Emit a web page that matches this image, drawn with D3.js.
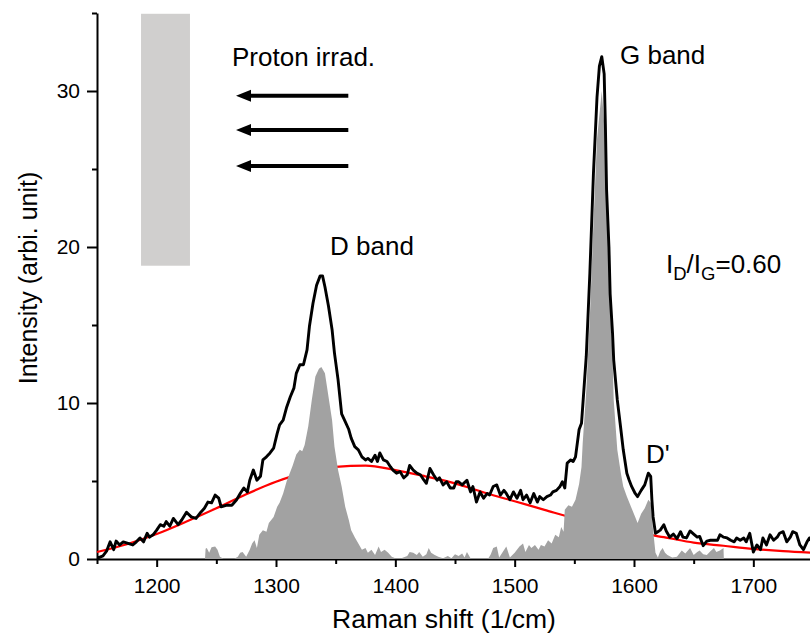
<!DOCTYPE html>
<html>
<head>
<meta charset="utf-8">
<script src="https://cdn.jsdelivr.net/npm/d3@7"></script>
<style>
  html, body { margin: 0; padding: 0; background: #fff; }
  svg { display: block; }
  text { font-family: "Liberation Sans", Arial, sans-serif; fill: #000; }
</style>
</head>
<body>
<svg id="chart" width="810" height="637"></svg>
<script>
// ---------------- data ----------------
const xTicksMajor = [1200, 1300, 1400, 1500, 1600, 1700];
const xTicksMinor = [1150, 1250, 1350, 1450, 1550, 1650, 1750];
const yTicksMajor = [0, 10, 20, 30];
const yTicksMinor = [5, 15, 25, 35];

// measured Raman spectrum [shift, intensity]
const spectrum = [
[1150,0.1],[1152,0.1],[1155,0.2],[1158,0.5],[1161,1.1],[1164,0.6],[1166,1.15],[1169,0.9],[1172,1.1],[1176,1.0],
[1180,0.9],[1183,1.1],[1186,1.35],[1189,1.1],[1192,1.65],[1194,1.4],[1197,1.55],[1200,1.85],[1203,2.2],[1206,2.1],
[1208,2.4],[1211,2.1],[1214,2.6],[1218,2.2],[1221,2.5],[1225,3.0],[1229,2.7],[1233,2.6],[1237,3.0],[1240,3.25],
[1243,3.65],[1246,3.6],[1249,4.1],[1252,3.9],[1254,3.35],[1259,3.45],[1263,3.45],[1267,3.8],[1270,4.2],[1273,4.55],
[1276,4.3],[1278,5.05],[1281,5.7],[1284,5.05],[1287,5.3],[1289,6.35],[1292,6.55],[1295,6.8],[1298,7.1],[1301,8.05],
[1303,8.6],[1306,8.9],[1309,9.75],[1312,10.4],[1315,10.95],[1317,11.9],[1320,12.45],[1323,12.45],[1326,13.4],[1328,14.9],
[1331,16.4],[1334,17.55],[1337,18.15],[1339,18.15],[1341,17.45],[1344,16.2],[1347,14.7],[1349,13.2],[1352,11.5],[1355,9.3],
[1358,8.8],[1361,8.3],[1363,7.75],[1366,7.2],[1369,7.0],[1372,6.55],[1375,6.35],[1377,6.45],[1380,6.25],[1383,6.65],
[1385,6.25],[1387,6.8],[1390,6.35],[1393,6.25],[1396,5.9],[1398,5.7],[1401,5.5],[1404,5.6],[1407,5.2],[1410,5.4],
[1412,6.0],[1415,5.7],[1418,5.5],[1421,5.4],[1424,5.05],[1426,4.85],[1429,5.8],[1432,5.4],[1435,5.05],[1437,5.2],
[1440,4.75],[1443,4.95],[1446,4.55],[1449,4.55],[1451,4.95],[1453,4.95],[1456,4.75],[1460,5.05],[1463,4.3],[1465,4.65],
[1468,3.65],[1471,4.3],[1474,3.9],[1477,4.2],[1479,4.1],[1482,4.65],[1485,4.75],[1488,4.1],[1491,4.4],[1493,4.2],
[1496,3.8],[1499,4.3],[1502,3.9],[1505,4.4],[1507,3.8],[1510,4.1],[1513,3.6],[1516,4.2],[1519,3.65],[1521,4.0],
[1524,3.8],[1527,4.0],[1530,4.1],[1532,4.3],[1535,4.4],[1538,4.65],[1540,4.95],[1542,4.55],[1544,6.15],[1547,6.35],
[1549,6.25],[1551,6.55],[1554,8.3],[1556,8.7],[1557,9.75],[1560,13.0],[1563,18.3],[1566,24.7],[1569,29.6],[1571,31.6],
[1573,32.2],[1575,31.1],[1576,27.9],[1577,23.7],[1579,20.0],[1580,17.0],[1582,14.5],[1583,12.75],[1586,10.2],[1589,8.3],
[1591,7.0],[1594,5.5],[1596,5.05],[1598,4.65],[1601,4.2],[1603,4.0],[1606,4.4],[1609,4.75],[1612,5.5],[1614,5.3],
[1615,3.8],[1616,2.7],[1618,1.65],[1620,1.75],[1622,1.85],[1625,2.2],[1627,1.8],[1630,1.4],[1633,1.6],[1636,1.3],
[1639,1.75],[1641,1.4],[1644,1.35],[1647,1.8],[1650,1.6],[1653,1.4],[1655,1.45],[1658,0.85],[1661,1.15],[1664,1.2],
[1667,1.2],[1670,1.2],[1672,1.55],[1675,1.4],[1678,1.35],[1681,1.2],[1684,1.1],[1686,1.35],[1689,1.2],[1692,1.35],
[1694,1.1],[1697,1.65],[1700,0.45],[1703,0.9],[1706,0.6],[1708,1.35],[1711,0.9],[1714,1.55],[1717,1.2],[1720,1.4],
[1722,1.65],[1725,1.75],[1728,1.1],[1731,1.4],[1733,1.75],[1736,1.65],[1739,0.9],[1742,0.6],[1745,1.1],[1747,1.35],[1750,1.0]
];

// broad background (red)
const background = [
[1150,0.45],[1175,0.95],[1200,1.6],[1225,2.4],[1250,3.25],[1275,4.15],[1300,4.95],[1325,5.55],[1350,5.9],
[1375,5.98],[1400,5.7],[1425,5.3],[1450,4.85],[1475,4.25],[1500,3.7],[1525,3.15],[1550,2.6],[1575,2.1],
[1600,1.7],[1625,1.4],[1650,1.05],[1675,0.85],[1700,0.65],[1725,0.5],[1750,0.4]
];

// background-subtracted peaks (grey fill)
const subtracted = [
[1240.5,0],[1241,0.65],[1242,0.7],[1244,0.4],[1246,0.75],[1249,0.8],[1251,0.6],[1253,0.15],[1256,0.02],[1265,0.02],
[1268,0.15],[1270,0.4],[1272,0.45],[1275,0.15],[1278,0.6],[1280,1.0],[1282,1.2],[1284,0.7],[1286,1.55],[1289,1.85],
[1292,1.75],[1294,2.3],[1296,2.5],[1298,2.7],[1301,3.35],[1303,3.6],[1306,4.2],[1309,5.0],[1312,5.6],[1314,6.0],
[1317,6.7],[1320,7.0],[1322,6.9],[1324,7.3],[1327,8.5],[1330,10.2],[1333,11.7],[1336,12.2],[1338,12.3],[1341,11.9],
[1344,10.4],[1347,8.9],[1349,7.2],[1352,5.7],[1355,4.65],[1358,3.35],[1361,2.5],[1363,1.85],[1366,1.4],[1369,1.0],
[1372,0.6],[1375,0.7],[1377,0.4],[1380,0.6],[1383,0.25],[1386,0.8],[1388,0.45],[1391,0.6],[1394,0.4],[1397,0.15],
[1400,0.05],[1405,0.05],[1410,0.2],[1412,0.45],[1415,0.4],[1418,0.25],[1420,0.45],[1423,0.15],[1426,0.3],[1428,0.7],
[1430,0.4],[1433,0.25],[1436,0.15],[1440,0.05],[1444,0.2],[1447,0.05],[1450,0.3],[1453,0.2],[1456,0.35],[1458,0.1],
[1460,0.45],[1463,0.05],[1470,0.05],[1478,0.05],[1480,0.3],[1482,0.7],[1485,0.8],[1487,0.1],[1490,0.45],[1493,0.8],
[1496,0.1],[1500,0.4],[1504,0.8],[1507,1.0],[1509,0.45],[1512,0.9],[1514,0.7],[1517,0.9],[1520,0.6],[1522,0.9],
[1525,0.8],[1528,1.2],[1531,1.0],[1534,1.55],[1537,1.4],[1539,2.05],[1541,1.75],[1542,3.15],[1545,3.45],[1548,3.35],
[1551,3.8],[1554,4.8],[1556,5.9],[1557,7.4],[1560,10.8],[1563,15.5],[1566,21.5],[1569,26.9],[1573,30.0],[1576,26.9],
[1577,23.7],[1579,20.0],[1580,16.2],[1582,13.0],[1583,10.2],[1586,7.0],[1589,5.5],[1591,4.65],[1594,4.0],[1598,3.25],
[1601,2.7],[1603,2.3],[1606,2.9],[1609,3.25],[1612,3.8],[1614,3.6],[1616,1.85],[1618,0.4],[1620,0.1],[1622,0.5],
[1624,0.7],[1626,0.4],[1628,0.25],[1632,0.1],[1636,0.15],[1640,0.55],[1643,0.35],[1647,0.7],[1650,0.25],[1653,0.45],
[1655,0.55],[1658,0.3],[1661,0.25],[1664,0.5],[1667,0.7],[1669,0.45],[1672,0.55],[1675,0.7],[1675.3,0]
];

// ---------------- chart ----------------
const svg = d3.select("#chart");
const x = d3.scaleLinear().domain([1150, 1750]).range([97, 813]);
const y = d3.scaleLinear().domain([0, 35]).range([559, 13]);

// axes (drawn first; grey fill covers x-axis line)
function styleAxis(g) {
  g.selectAll("path.domain").attr("stroke", "#000").attr("stroke-width", 2);
  g.selectAll("line").attr("stroke", "#000").attr("stroke-width", 2);
  g.selectAll("text").style("font-family", "'Liberation Sans', Arial, sans-serif")
    .style("font-size", "21px").attr("fill", "#000");
}
const gx = svg.append("g").attr("transform", `translate(0,${y(0)})`);
gx.call(d3.axisBottom(x).tickValues(xTicksMajor).tickSize(8).tickSizeOuter(0).tickPadding(11).tickFormat(d3.format("d")));
styleAxis(gx);
const gxm = svg.append("g").attr("transform", `translate(0,${y(0)})`);
gxm.call(d3.axisBottom(x).tickValues(xTicksMinor).tickSize(5).tickSizeOuter(0).tickFormat(""));
styleAxis(gxm);
gxm.select("path.domain").remove();

const gy = svg.append("g").attr("transform", `translate(${x(1150)},0)`);
gy.call(d3.axisLeft(y).tickValues(yTicksMajor).tickSize(10).tickSizeOuter(0).tickPadding(7).tickFormat(d3.format("d")));
styleAxis(gy);
const gym = svg.append("g").attr("transform", `translate(${x(1150)},0)`);
gym.call(d3.axisLeft(y).tickValues(yTicksMinor).tickSize(5).tickSizeOuter(0).tickFormat(""));
styleAxis(gym);
gym.select("path.domain").remove();

// red background curve
const line = d3.line().x(d => x(d[0])).y(d => y(d[1])).curve(d3.curveMonotoneX);
svg.append("path").datum(background).attr("d", line)
  .attr("fill", "none").attr("stroke", "#ff0000").attr("stroke-width", 2.2);

// grey filled subtracted peaks
const area = d3.area().x(d => x(d[0])).y0(y(0)).y1(d => y(d[1]));
svg.append("path").datum(subtracted).attr("d", area)
  .attr("fill", "#a2a2a2").attr("stroke", "none");

// black spectrum
const line2 = d3.line().x(d => x(d[0])).y(d => y(d[1])).curve(d3.curveLinear);
svg.append("path").datum(spectrum).attr("d", line2)
  .attr("fill", "none").attr("stroke", "#000").attr("stroke-width", 2.9)
  .attr("stroke-linejoin", "round");

// sample block
svg.append("rect")
  .attr("x", x(1186.9)).attr("y", y(34.95))
  .attr("width", x(1227.9) - x(1186.9)).attr("height", y(18.8) - y(34.95))
  .attr("fill", "#d0cfce");

// arrows
[29.7, 27.5, 25.2].forEach(v => {
  const yy = y(v), tip = x(1266.5), tail = x(1360.6);
  svg.append("line").attr("x1", tail).attr("x2", tip + 12).attr("y1", yy).attr("y2", yy)
    .attr("stroke", "#000").attr("stroke-width", 4);
  svg.append("path").attr("d", `M${tip},${yy} L${tip + 15},${yy - 6} L${tip + 15},${yy + 6} Z`)
    .attr("fill", "#000");
});

// annotations
const fs = "26px";
svg.append("text").attr("x", 232).attr("y", 66).style("font-size", fs).text("Proton irrad.");
svg.append("text").attr("x", 620).attr("y", 64).style("font-size", fs).text("G band");
svg.append("text").attr("x", 330).attr("y", 255).style("font-size", fs).text("D band");
svg.append("text").attr("x", 646).attr("y", 463).style("font-size", fs).text("D'");
const r = svg.append("text").attr("x", 666).attr("y", 273).style("font-size", "26px");
r.append("tspan").text("I");
r.append("tspan").attr("dy", 7).style("font-size", "18.5px").text("D");
r.append("tspan").attr("dy", -7).text("/I");
r.append("tspan").attr("dy", 7).style("font-size", "18.5px").text("G");
r.append("tspan").attr("dy", -7).text("=0.60");

// axis titles
svg.append("text").attr("x", 444).attr("y", 628).attr("text-anchor", "middle")
  .style("font-size", "26.5px").text("Raman shift (1/cm)");
svg.append("text").attr("transform", "translate(37,278) rotate(-90)").attr("text-anchor", "middle")
  .style("font-size", "25px").text("Intensity (arbi. unit)");
</script>
</body>
</html>
